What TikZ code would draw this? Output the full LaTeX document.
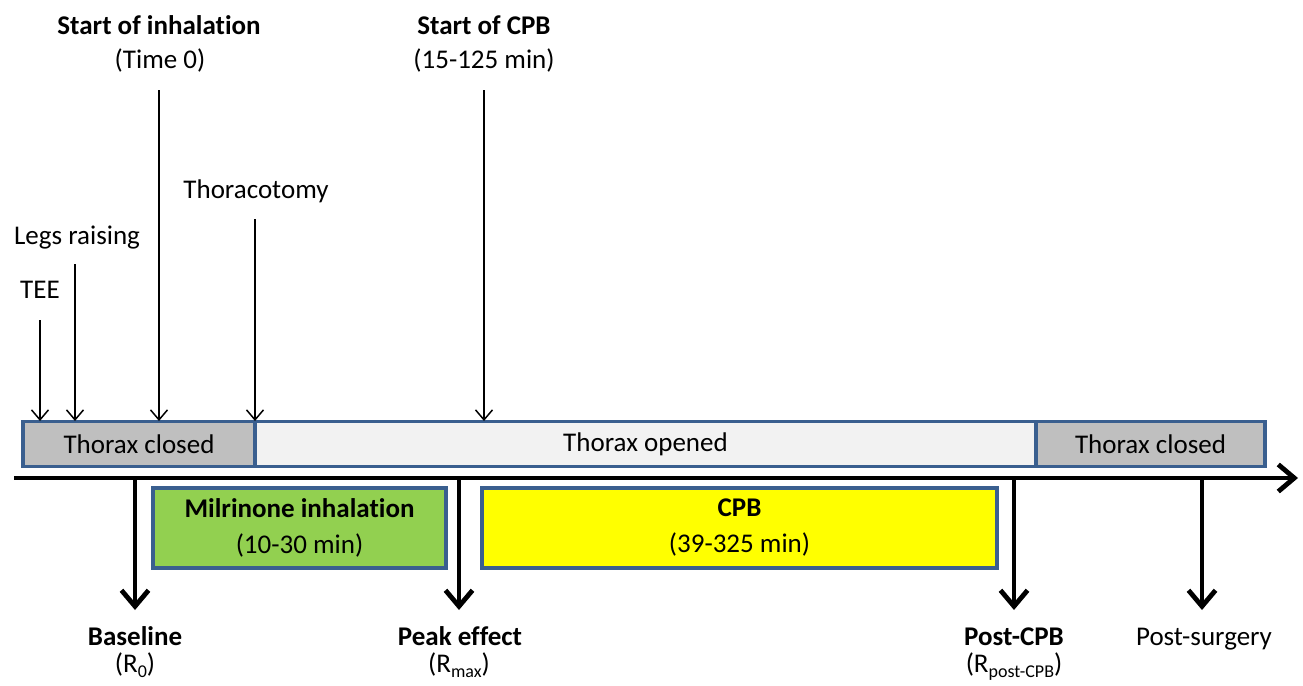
\documentclass[tikz,border=0pt]{standalone}
\usepackage{fontspec}
\setmainfont{Carlito}[Ligatures=NoCommon]
\usetikzlibrary{arrows.meta}
\definecolor{bordblue}{HTML}{3A5F8F}
\definecolor{closedgrey}{HTML}{BFBFBF}
\definecolor{openedgrey}{HTML}{F2F2F2}
\definecolor{milgreen}{HTML}{92D050}
\definecolor{cpbyellow}{HTML}{FFFF00}
\newcommand{\subtxt}[1]{\raisebox{-0.22em}{\fontsize{18}{18}\selectfont #1}}
\tikzset{
  txt/.style={font=\fontsize{27}{32}\selectfont, inner sep=0pt, anchor=base},
  btxt/.style={txt, font=\fontsize{27}{32}\selectfont\bfseries},
  bar/.style={draw=bordblue, line width=3.2pt, inner sep=0pt, outer sep=0pt, minimum height=45pt, font=\fontsize{27}{32}\selectfont},
  phase/.style={draw=bordblue, line width=3.2pt, inner sep=0pt, outer sep=0pt, minimum height=80pt, align=center, font=\fontsize{27}{36}\selectfont},
  thinarrow/.style={line width=1.5pt, -{Straight Barb[length=10pt,width=17pt,line width=1.5pt]}},
  thickarrow/.style={line width=4.8pt, -{Straight Barb[length=16pt,width=27pt,line width=4.8pt]}},
  axis/.style={line width=4.8pt, -{Straight Barb[length=16pt,width=27pt,line width=4.8pt]}}
}
\begin{document}
\begin{tikzpicture}[x=1pt,y=-1pt]
\useasboundingbox[fill=white] (0,0) rectangle (1303,685);

% bar segments
\node[bar, fill=closedgrey, minimum width=232pt] (tc1) at (139,444) {Thorax closed};
\node[bar, fill=openedgrey, minimum width=781pt] (to) at (645.5,444) {Thorax opened};
\node[bar, fill=closedgrey, minimum width=229pt] (tc2) at (1150.5,444) {Thorax closed};

% phase boxes
\node[phase, fill=milgreen, minimum width=293pt] (mil) at (299.5,528) {\textbf{Milrinone inhalation}\\(10-30 min)};
\node[phase, fill=cpbyellow, minimum width=515pt] (cpb) at (739.5,528) {\textbf{CPB}\\(39-325 min)};

% timeline
\coordinate (t0) at (14,478);
\coordinate (t1) at (1298,478);
\draw[axis] (t0) -- (t1);

% top labels
\node[btxt] (sinh) at (159,35) {Start of inhalation};
\node[txt] (time0) at (160,68) {(Time 0)};
\node[btxt] (scpb) at (484,35) {Start of CPB};
\node[txt] (scpbt) at (484,68) {(15-125 min)};
\node[txt] (thor) at (256,198) {Thoracotomy};
\node[txt] (legs) at (77,244) {Legs raising};
\node[txt] (tee) at (40,298) {TEE};

% thin arrows
\coordinate (a1s) at (40,320);  \coordinate (a1e) at (40,421);
\coordinate (a2s) at (75,264);  \coordinate (a2e) at (75,421);
\coordinate (a3s) at (159,90);  \coordinate (a3e) at (159,421);
\coordinate (a4s) at (255,219); \coordinate (a4e) at (255,421);
\coordinate (a5s) at (484,90);  \coordinate (a5e) at (484,421);
\draw[thinarrow] (a1s) -- (a1e);
\draw[thinarrow] (a2s) -- (a2e);
\draw[thinarrow] (a3s) -- (a3e);
\draw[thinarrow] (a4s) -- (a4e);
\draw[thinarrow] (a5s) -- (a5e);

% thick down arrows
\coordinate (d1s) at (135,476);  \coordinate (d1e) at (135,610);
\coordinate (d2s) at (459,476);  \coordinate (d2e) at (459,610);
\coordinate (d3s) at (1014,476); \coordinate (d3e) at (1014,610);
\coordinate (d4s) at (1202,476); \coordinate (d4e) at (1202,610);
\draw[thickarrow] (d1s) -- (d1e);
\draw[thickarrow] (d2s) -- (d2e);
\draw[thickarrow] (d3s) -- (d3e);
\draw[thickarrow] (d4s) -- (d4e);

% bottom labels
\node[btxt] (base) at (135,645) {Baseline};
\node[txt] (r0) at (135,672) {(R\subtxt{0})};
\node[btxt] (peak) at (460,645) {Peak effect};
\node[txt] (rmax) at (459,672) {(R\subtxt{max})};
\node[btxt] (post) at (1014,645) {Post-CPB};
\node[txt] (rpost) at (1014,672) {(R\subtxt{post-CPB})};
\node[txt] (psurg) at (1204,645) {Post-surgery};
\end{tikzpicture}
\end{document}
